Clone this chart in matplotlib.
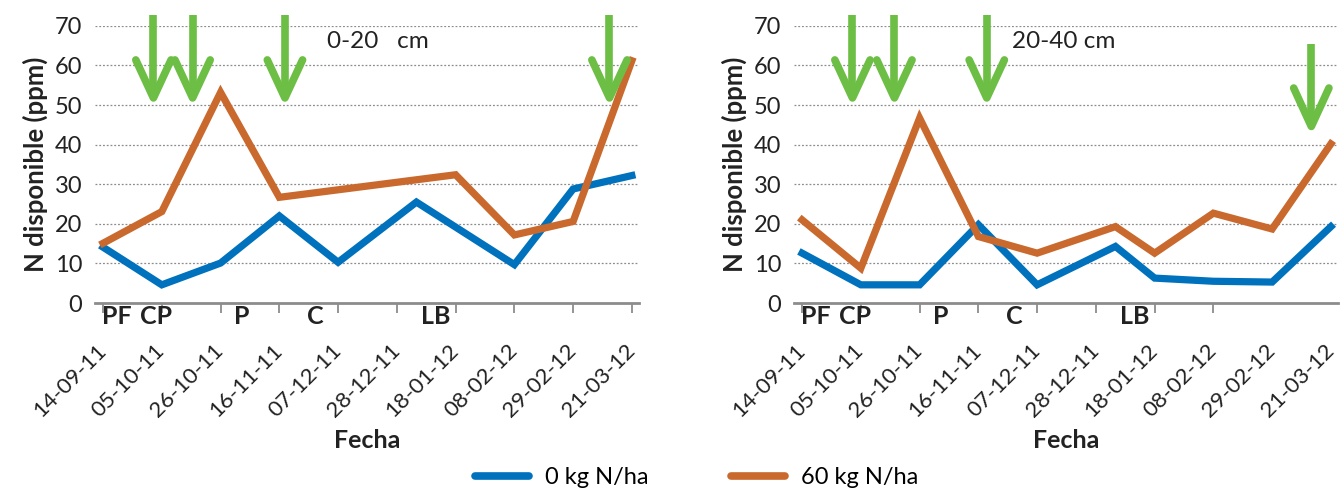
import datetime as dt
import matplotlib
matplotlib.use("Agg")
import matplotlib.pyplot as plt
from matplotlib.lines import Line2D

plt.rcParams['font.family'] = ['Lato', 'DejaVu Sans']

def d(s):
    return dt.datetime.strptime(s, "%d-%m-%y")

# ---- data ----
tick_dates = ['14-09-11', '05-10-11', '26-10-11', '16-11-11', '07-12-11',
              '28-12-11', '18-01-12', '08-02-12', '29-02-12', '21-03-12']

left_blue_dates = ['14-09-11', '05-10-11', '26-10-11', '16-11-11', '07-12-11',
                   '04-01-12', '08-02-12', '29-02-12', '21-03-12']
left_blue = [14.1, 4.6, 10.1, 22.0, 10.3, 25.5, 9.7, 28.8, 32.2]
left_orange_dates = ['14-09-11', '05-10-11', '26-10-11', '16-11-11',
                     '18-01-12', '08-02-12', '29-02-12', '21-03-12']
left_orange = [15.1, 23.1, 53.2, 26.7, 32.4, 17.2, 20.6, 61.2]

right_dates = ['14-09-11', '05-10-11', '26-10-11', '16-11-11', '07-12-11',
               '04-01-12', '18-01-12', '08-02-12', '29-02-12', '21-03-12']
right_blue = [12.6, 4.6, 4.6, 19.8, 4.6, 14.3, 6.3, 5.5, 5.3, 19.3]
right_orange = [21.0, 8.8, 46.7, 16.8, 12.6, 19.3, 12.6, 22.7, 18.7, 40.2]

# fertilisation arrows: date, shaft top, tip, wing top
left_arrows = [('02-10-11', 72.8, 51.8, 61.4), ('16-10-11', 72.8, 51.8, 61.4),
               ('18-11-11', 72.8, 51.8, 61.4), ('13-03-12', 72.8, 51.8, 61.4)]
right_arrows = [('02-10-11', 72.8, 51.8, 61.4), ('17-10-11', 72.8, 51.8, 61.4),
                ('19-11-11', 72.8, 51.8, 61.4), ('14-03-12', 65.4, 44.6, 54.3)]

phases = ['PF', 'CP', 'P', 'C', 'LB']
phase_days = [5, 19, 49.5, 76, 119]

BLUE = '#0071BC'
ORANGE = '#C9692D'
GREEN = '#6DBE45'
GRAY = '#8C8C8C'
TXT = '#222222'

fig = plt.figure(figsize=(13.43, 4.88), dpi=100)
ax1 = fig.add_axes([0.0707, 0.379, 0.405, 0.568])
ax2 = fig.add_axes([0.5912, 0.379, 0.405, 0.568])

start = d(tick_dates[0])


def draw_panel(ax, bdates, bvals, odates, ovals, arrows, label, label_date):
    ax.plot([d(s) for s in bdates], bvals, color=BLUE, lw=5.2,
            solid_joinstyle='miter', zorder=3)
    ax.plot([d(s) for s in odates], ovals, color=ORANGE, lw=5.2,
            solid_joinstyle='miter', zorder=3)
    ax.set_ylim(0, 70)
    ax.set_xlim(start - dt.timedelta(days=2.9), d(tick_dates[-1]) + dt.timedelta(days=2.5))
    ax.set_yticks(range(0, 71, 10))
    for v in range(10, 71, 10):
        ax.axhline(v, color=GRAY, lw=0.9, ls=(0, (1.5, 1.5)), zorder=1)
    ax.set_xticks([d(s) for s in tick_dates])
    ax.set_xticklabels(tick_dates, rotation=45, ha='right', va='center',
                       rotation_mode='anchor')
    ax.tick_params(axis='x', direction='out', length=7, width=1.3, color=GRAY,
                   pad=25, labelsize=16, labelcolor=TXT)
    ax.tick_params(axis='y', length=0, pad=9, labelsize=17, labelcolor=TXT)
    for sp in ['top', 'right', 'left']:
        ax.spines[sp].set_visible(False)
    ax.spines['bottom'].set_color(GRAY)
    ax.spines['bottom'].set_linewidth(2)
    ax.set_ylabel('N disponible (ppm)', fontsize=18.5, fontweight='bold',
                  color=TXT, labelpad=5)
    ax.set_xlabel('Fecha', fontsize=18, fontweight='bold', color=TXT,
                  labelpad=6)
    ax.text(d(label_date), 66, label, fontsize=17.5, va='center', ha='left',
            color=TXT)
    tr = ax.get_xaxis_transform()
    for p, dd in zip(phases, phase_days):
        ax.text(start + dt.timedelta(days=dd), -0.006, p, transform=tr,
                ha='center', va='top', fontsize=18, fontweight='bold',
                color=TXT)
    for s, top, tip, wing in arrows:
        x = d(s)
        w = dt.timedelta(days=6.3)
        ax.plot([x, x], [top, tip + 1.5], color=GREEN, lw=5.5,
                solid_capstyle='butt', clip_on=False, zorder=4)
        ax.plot([x - w, x, x + w], [wing, tip, wing], color=GREEN, lw=5.5,
                solid_capstyle='round', solid_joinstyle='round', clip_on=False, zorder=4)


draw_panel(ax1, left_blue_dates, left_blue, left_orange_dates, left_orange,
           left_arrows, '0-20   cm', '03-12-11')
draw_panel(ax2, right_dates, right_blue, right_dates, right_orange,
           right_arrows, '20-40 cm', '28-11-11')

# the right panel shows no tick marks for the last two dates
for t in ax2.xaxis.get_major_ticks()[-2:]:
    t.tick1line.set_visible(False)

handles = [Line2D([], [], color=BLUE, lw=5.5, solid_capstyle='round'),
           Line2D([], [], color=ORANGE, lw=5.5, solid_capstyle='round')]
fig.legend(handles, ['0 kg N/ha', '60 kg N/ha'], loc='center',
           bbox_to_anchor=(0.5186, 0.022), ncol=2, frameon=False, fontsize=17,
           handlelength=2.3, columnspacing=3.5, handletextpad=0.65)

fig.savefig('out.png', dpi=100)
